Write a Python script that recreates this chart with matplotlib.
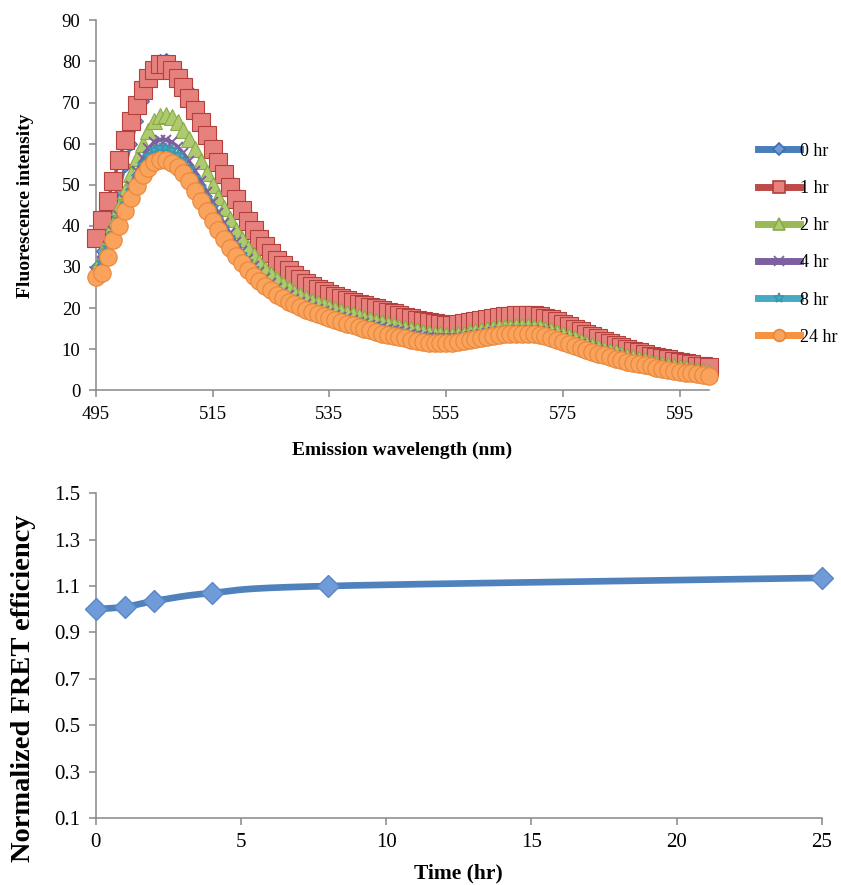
import numpy as np
import matplotlib
matplotlib.use("Agg")
import matplotlib.pyplot as plt
from matplotlib.lines import Line2D

plt.rcParams['font.family'] = ['Liberation Serif', 'DejaVu Serif']

# emission spectra, one reading per nm
wavelength = np.arange(495, 601)

hr0 = [30.0, 34.0, 38.5, 43.5, 49.0, 54.5, 60.0, 65.5, 70.5, 75.0,
       78.5, 80.3, 80.6, 79.5, 77.8, 75.6, 73.0, 70.0, 66.8, 63.6,
       60.4, 57.2, 54.1, 51.1, 48.2, 45.4, 42.8, 40.4, 38.2, 36.2,
       34.4, 32.7, 31.2, 29.8, 28.6, 27.4, 26.3, 25.4, 24.5, 23.7,
       23.0, 22.3, 21.7, 21.1, 20.6, 20.1, 19.6, 19.2, 18.8, 18.4,
       18.0, 17.6, 17.2, 16.8, 16.4, 16.0, 15.7, 15.4, 15.1, 14.9,
       14.8, 14.8, 14.9, 15.1, 15.4, 15.7, 16.0, 16.2, 16.4, 16.6,
       16.8, 16.9, 17.0, 17.1, 17.1, 17.0, 16.8, 16.5, 16.1, 15.6,
       15.0, 14.4, 13.8, 13.2, 12.6, 12.0, 11.4, 10.8, 10.3, 9.8,
       9.3, 8.8, 8.4, 8.0, 7.6, 7.2, 6.9, 6.6, 6.3, 6.0,
       5.7, 5.4, 5.1, 4.8, 4.6, 4.4]

hr1 = [37.0, 41.5, 46.0, 51.0, 56.0, 61.0, 65.5, 69.5, 73.0, 76.0,
       78.0, 79.3, 79.5, 78.0, 76.0, 73.8, 71.2, 68.3, 65.2, 62.0,
       58.8, 55.6, 52.5, 49.5, 46.6, 43.8, 41.3, 39.0, 36.9, 35.0,
       33.3, 31.8, 30.4, 29.2, 28.1, 27.1, 26.2, 25.4, 24.7, 24.1,
       23.5, 23.0, 22.5, 22.0, 21.5, 21.1, 20.7, 20.3, 19.9, 19.5,
       19.1, 18.7, 18.3, 17.9, 17.5, 17.2, 16.9, 16.6, 16.3, 16.1,
       16.0, 16.0, 16.1, 16.3, 16.6, 16.9, 17.2, 17.4, 17.6, 17.8,
       18.0, 18.1, 18.2, 18.3, 18.3, 18.2, 18.0, 17.7, 17.3, 16.8,
       16.2, 15.6, 15.0, 14.4, 13.8, 13.2, 12.6, 12.0, 11.5, 11.0,
       10.5, 10.0, 9.6, 9.2, 8.8, 8.4, 8.1, 7.8, 7.5, 7.2,
       6.9, 6.6, 6.3, 6.0, 5.8, 5.6]

hr2 = [29.5, 32.5, 36.5, 40.5, 44.5, 48.5, 52.5, 56.5, 60.0, 63.2,
       65.5, 66.8, 67.0, 66.4, 65.2, 63.4, 61.2, 58.6, 55.8, 52.9,
       50.0, 47.1, 44.3, 41.6, 39.1, 36.8, 34.7, 32.8, 31.1, 29.6,
       28.2, 27.0, 25.9, 24.9, 24.0, 23.2, 22.5, 21.8, 21.2, 20.7,
       20.2, 19.7, 19.3, 18.9, 18.5, 18.1, 17.7, 17.3, 16.9, 16.5,
       16.1, 15.8, 15.5, 15.2, 14.9, 14.6, 14.3, 14.0, 13.8, 13.6,
       13.5, 13.5, 13.6, 13.8, 14.1, 14.4, 14.7, 14.9, 15.1, 15.3,
       15.4, 15.5, 15.6, 15.6, 15.6, 15.5, 15.3, 15.0, 14.6, 14.1,
       13.6, 13.1, 12.6, 12.1, 11.6, 11.1, 10.6, 10.1, 9.6, 9.2,
       8.8, 8.4, 8.0, 7.6, 7.3, 7.0, 6.7, 6.4, 6.1, 5.9,
       5.6, 5.4, 5.1, 4.9, 4.7, 4.5]

hr4 = [28.5, 31.5, 35.0, 38.8, 42.5, 46.2, 49.8, 53.3, 56.4, 58.9,
       60.4, 61.0, 61.0, 60.4, 59.3, 57.7, 55.7, 53.4, 50.9, 48.3,
       45.7, 43.1, 40.6, 38.2, 36.0, 33.9, 32.0, 30.3, 28.8, 27.4,
       26.1, 25.0, 24.0, 23.1, 22.3, 21.6, 20.9, 20.3, 19.7, 19.2,
       18.7, 18.3, 17.9, 17.5, 17.1, 16.7, 16.4, 16.0, 15.7, 15.3,
       15.0, 14.7, 14.4, 14.1, 13.8, 13.5, 13.3, 13.0, 12.8, 12.7,
       12.6, 12.6, 12.7, 12.9, 13.2, 13.5, 13.8, 14.0, 14.2, 14.4,
       14.5, 14.6, 14.7, 14.7, 14.7, 14.6, 14.4, 14.1, 13.7, 13.2,
       12.7, 12.2, 11.7, 11.2, 10.7, 10.2, 9.8, 9.3, 8.9, 8.5,
       8.1, 7.7, 7.3, 7.0, 6.7, 6.4, 6.1, 5.8, 5.6, 5.3,
       5.1, 4.9, 4.6, 4.4, 4.2, 4.0]

hr8 = [28.0, 31.0, 34.5, 38.0, 41.5, 45.0, 48.5, 51.8, 54.7, 57.0,
       58.4, 59.0, 59.0, 58.4, 57.3, 55.8, 53.9, 51.7, 49.3, 46.8,
       44.3, 41.8, 39.4, 37.1, 35.0, 33.0, 31.1, 29.4, 27.9, 26.6,
       25.4, 24.3, 23.3, 22.4, 21.6, 20.9, 20.3, 19.7, 19.1, 18.6,
       18.1, 17.7, 17.3, 16.9, 16.5, 16.2, 15.8, 15.5, 15.2, 14.8,
       14.5, 14.2, 13.9, 13.6, 13.3, 13.1, 12.8, 12.6, 12.4, 12.3,
       12.2, 12.2, 12.3, 12.5, 12.8, 13.1, 13.4, 13.6, 13.8, 14.0,
       14.1, 14.2, 14.3, 14.3, 14.3, 14.2, 14.0, 13.7, 13.3, 12.8,
       12.3, 11.8, 11.3, 10.8, 10.4, 9.9, 9.5, 9.0, 8.6, 8.2,
       7.8, 7.5, 7.1, 6.8, 6.5, 6.2, 5.9, 5.6, 5.4, 5.1,
       4.9, 4.7, 4.4, 4.2, 4.0, 3.8]

hr24 = [27.5, 28.5, 32.5, 36.5, 40.0, 43.5, 46.8, 49.8, 52.3, 54.2,
        55.5, 56.0, 56.0, 55.4, 54.4, 52.8, 50.8, 48.5, 46.0, 43.6,
        41.2, 38.9, 36.7, 34.6, 32.7, 30.9, 29.3, 27.9, 26.6, 25.4,
        24.3, 23.3, 22.4, 21.6, 20.9, 20.2, 19.6, 19.0, 18.5, 18.0,
        17.5, 17.0, 16.6, 16.2, 15.8, 15.4, 15.0, 14.6, 14.2, 13.8,
        13.5, 13.2, 12.9, 12.6, 12.3, 12.0, 11.8, 11.6, 11.5, 11.4,
        11.4, 11.5, 11.7, 11.9, 12.2, 12.5, 12.8, 13.0, 13.2, 13.4,
        13.6, 13.7, 13.8, 13.8, 13.8, 13.6, 13.4, 13.1, 12.7, 12.3,
        11.8, 11.3, 10.8, 10.3, 9.8, 9.3, 8.9, 8.5, 8.1, 7.7,
        7.3, 7.0, 6.7, 6.4, 6.1, 5.8, 5.5, 5.3, 5.0, 4.8,
        4.5, 4.3, 4.1, 3.9, 3.7, 3.5]

# normalized FRET efficiency over time
time_hr = [0, 1, 2, 4, 8, 25]
fret = [1.0, 1.01, 1.035, 1.07, 1.10, 1.135]

# label, data, line colour, marker, marker size, face, edge
series = [
    ("0 hr", hr0, "#4A7EBB", "D", 6, "#6E9BD6", "#3F6FB0"),
    ("1 hr", hr1, "#BE4B48", "s", 12.5, "#E6817E", "#B3403D"),
    ("2 hr", hr2, "#98B954", "^", 11.5, "#ADCB6E", "#8AAA48"),
    ("4 hr", hr4, "#7D60A0", "x", 7, "#7D60A0", "#7D60A0"),
    ("8 hr", hr8, "#46AAC5", "*", 7, "#46AAC5", "#3A97B0"),
    ("24 hr", hr24, "#F69240", "o", 12.5, "#F9A35C", "#E8873A"),
]

AXIS_GREY = "#888888"


def style_axes(ax, size):
    for side in ("top", "right"):
        ax.spines[side].set_visible(False)
    for side in ("left", "bottom"):
        ax.spines[side].set_color(AXIS_GREY)
        ax.spines[side].set_linewidth(1.1)
    ax.tick_params(direction="out", length=5, width=1.1, color=AXIS_GREY,
                   labelsize=size, pad=6)


def catmull_rom(xs, ys, n=40):
    pts = np.column_stack([xs, ys]).astype(float)
    pad = np.vstack([2 * pts[0] - pts[1], pts, 2 * pts[-1] - pts[-2]])
    t = np.linspace(0, 1, n)[:, None]
    out = []
    for i in range(1, len(pad) - 2):
        p0, p1, p2, p3 = pad[i - 1:i + 3]
        seg = 0.5 * (2 * p1 + (-p0 + p2) * t
                     + (2 * p0 - 5 * p1 + 4 * p2 - p3) * t ** 2
                     + (-p0 + 3 * p1 - 3 * p2 + p3) * t ** 3)
        out.append(seg)
    return np.vstack(out)


fig = plt.figure(figsize=(8.41, 8.85), dpi=100)

# top panel: spectra
ax1 = fig.add_axes([0.114, 0.559, 0.729, 0.418])
handles = []
for i, (label, vals, col, mk, ms, fc, ec) in enumerate(series):
    ax1.plot(wavelength, vals, color=col, lw=2.5, marker=mk, ms=ms,
             mfc=fc, mec=ec, mew=1.4 if mk in "x*" else 0.8,
             zorder=3 + i, clip_on=False)
    handles.append(Line2D([], [], color=col, lw=5, marker=mk,
                          ms=min(ms, 8.5), mfc=fc, mec=ec, mew=1.2,
                          label=label))

ax1.set_xlim(495, 600)
ax1.set_ylim(0, 90)
ax1.set_xticks(np.arange(495, 600, 20))
ax1.set_yticks(np.arange(0, 91, 10))
style_axes(ax1, 13.5)
ax1.set_xlabel("Emission wavelength (nm)", fontsize=14, fontweight="bold",
               labelpad=14)
ax1.set_ylabel("Fluorescence intensity", fontsize=14, fontweight="bold",
               labelpad=20)

fig.legend(handles=handles, loc="upper left",
           bbox_to_anchor=(0.893, 0.847), frameon=False, fontsize=13,
           handlelength=2.3, handletextpad=0.0, labelspacing=1.12,
           borderaxespad=0)

# bottom panel: FRET efficiency
ax2 = fig.add_axes([0.114, 0.0757, 0.863, 0.367])
curve = catmull_rom(time_hr, fret)
ax2.plot(curve[:, 0], curve[:, 1], color="#4F81BD", lw=4.8,
         solid_capstyle="round", zorder=3)
ax2.plot(time_hr, fret, linestyle="none", marker="D", ms=11,
         mfc="#6F9BD8", mec="#5A88C4", mew=1.0, zorder=4, clip_on=False)
ax2.set_xlim(0, 25)
ax2.set_ylim(0.1, 1.5)
ax2.set_xticks(np.arange(0, 26, 5))
ax2.set_yticks(np.arange(0.1, 1.51, 0.2))
ax2.set_yticklabels([f"{v:.1f}" for v in np.arange(0.1, 1.51, 0.2)])
style_axes(ax2, 15)
ax2.set_xlabel("Time (hr)", fontsize=15.5, fontweight="bold", labelpad=8)
ax2.set_ylabel("Normalized FRET efficiency", fontsize=20.5,
               fontweight="bold")
ax2.yaxis.set_label_coords(-0.083, 0.4)

fig.savefig("out.png", dpi=100)
